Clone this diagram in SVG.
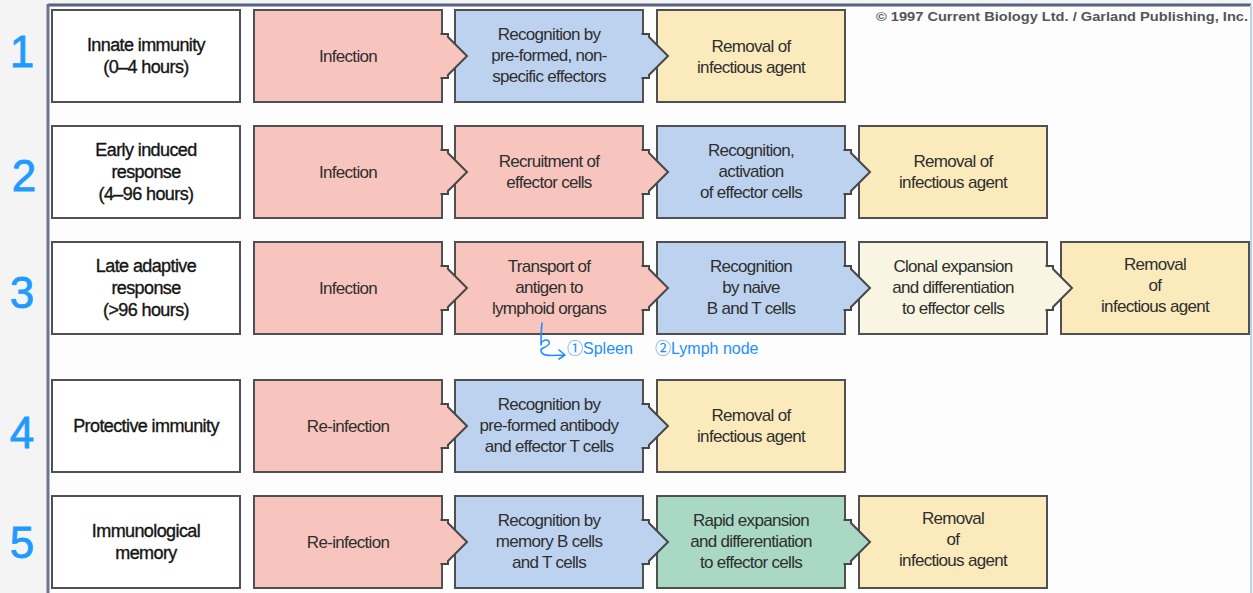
<svg xmlns="http://www.w3.org/2000/svg" width="1253" height="593" viewBox="0 0 1253 593">
<style>
.box{stroke:#505050;stroke-width:2}
.lab{fill:#fff}
.pk{fill:#f7c5bd}
.bl{fill:#bdd2ee}
.ye{fill:#fbebbc}
.cr{fill:#f8f6e3}
.gr{fill:#a9d8c5}
.t{font-family:"Liberation Sans",Arial,sans-serif;font-size:17px;letter-spacing:-0.7px;fill:#2e2e2e;text-anchor:middle}
.tl{font-family:"Liberation Sans",Arial,sans-serif;font-size:18px;letter-spacing:-0.6px;fill:#151515;stroke:#151515;stroke-width:0.35;text-anchor:middle}
.arr{stroke:#474747;stroke-width:2;stroke-linejoin:miter}
.num{font-family:"Liberation Sans",Arial,sans-serif;font-size:44px;fill:#1f9bff;stroke:#1f9bff;stroke-width:0.8;text-anchor:middle}
.hw{font-family:"Liberation Sans","Noto Sans CJK SC",sans-serif;font-size:16px;fill:#1f8fff}
</style>
<rect width="1253" height="593" fill="#f4f4f4"/>
<rect x="48" y="5" width="1203" height="595" fill="#fdfdfd"/>
<line x1="48" y1="5" x2="1251" y2="5" stroke="#56627e" stroke-width="3"/>
<line x1="48" y1="4" x2="48" y2="593" stroke="#6b7590" stroke-width="3"/>
<line x1="1251" y1="5" x2="1251" y2="593" stroke="#bcd3ea" stroke-width="2"/>
<text x="1062" y="21" font-family="Liberation Sans,Arial,sans-serif" font-size="13" font-weight="bold" fill="#555" text-anchor="middle" textLength="372" lengthAdjust="spacingAndGlyphs">© 1997 Current Biology Ltd. / Garland Publishing, Inc.</text>

<g id="numbers">
<text class="num" x="22" y="67">1</text>
<text class="num" x="24" y="191">2</text>
<text class="num" x="22" y="308">3</text>
<text class="num" x="22" y="448">4</text>
<text class="num" x="22" y="558">5</text>
</g>

<!-- Row 1 -->
<g id="r1-label"><rect class="box lab" x="52" y="10" width="188" height="92"/><text class="tl" x="146" y="51">Innate immunity</text><text class="tl" x="146" y="73">(0–4 hours)</text></g>
<g id="r1-infection"><rect class="box pk" x="254" y="10" width="188" height="92"/><text class="t" x="348" y="62">Infection</text></g>
<g id="r1-recognition"><rect class="box bl" x="455" y="10" width="188" height="92"/><text class="t" x="549" y="40">Recognition by</text><text class="t" x="549" y="61">pre-formed, non-</text><text class="t" x="549" y="82">specific effectors</text></g>
<g id="r1-removal"><rect class="box ye" x="657" y="10" width="188" height="92"/><text class="t" x="751" y="52">Removal of</text><text class="t" x="751" y="73">infectious agent</text></g>

<!-- Row 2 -->
<g id="r2-label"><rect class="box lab" x="52" y="126" width="188" height="92"/><text class="tl" x="146" y="156">Early induced</text><text class="tl" x="146" y="178">response</text><text class="tl" x="146" y="200">(4–96 hours)</text></g>
<g id="r2-infection"><rect class="box pk" x="254" y="126" width="188" height="92"/><text class="t" x="348" y="178">Infection</text></g>
<g id="r2-recruitment"><rect class="box pk" x="455" y="126" width="188" height="92"/><text class="t" x="549" y="167">Recruitment of</text><text class="t" x="549" y="188">effector cells</text></g>
<g id="r2-recognition"><rect class="box bl" x="657" y="126" width="188" height="92"/><text class="t" x="751" y="156">Recognition,</text><text class="t" x="751" y="177">activation</text><text class="t" x="751" y="198">of effector cells</text></g>
<g id="r2-removal"><rect class="box ye" x="859" y="126" width="188" height="92"/><text class="t" x="953" y="167">Removal of</text><text class="t" x="953" y="188">infectious agent</text></g>

<!-- Row 3 -->
<g id="r3-label"><rect class="box lab" x="52" y="242" width="188" height="92"/><text class="tl" x="146" y="272">Late adaptive</text><text class="tl" x="146" y="294">response</text><text class="tl" x="146" y="316">(&gt;96 hours)</text></g>
<g id="r3-infection"><rect class="box pk" x="254" y="242" width="188" height="92"/><text class="t" x="348" y="294">Infection</text></g>
<g id="r3-transport"><rect class="box pk" x="455" y="242" width="188" height="92"/><text class="t" x="549" y="272">Transport of</text><text class="t" x="549" y="293">antigen to</text><text class="t" x="549" y="314">lymphoid organs</text></g>
<g id="r3-recognition"><rect class="box bl" x="657" y="242" width="188" height="92"/><text class="t" x="751" y="272">Recognition</text><text class="t" x="751" y="293">by naive</text><text class="t" x="751" y="314">B and T cells</text></g>
<g id="r3-clonal"><rect class="box cr" x="859" y="242" width="188" height="92"/><text class="t" x="953" y="272">Clonal expansion</text><text class="t" x="953" y="293">and differentiation</text><text class="t" x="953" y="314">to effector cells</text></g>
<g id="r3-removal"><rect class="box ye" x="1061" y="242" width="188" height="92"/><text class="t" x="1155" y="270">Removal</text><text class="t" x="1155" y="291">of</text><text class="t" x="1155" y="312">infectious agent</text></g>

<!-- Row 4 -->
<g id="r4-label"><rect class="box lab" x="52" y="380" width="188" height="92"/><text class="tl" x="146" y="432">Protective immunity</text></g>
<g id="r4-reinfection"><rect class="box pk" x="254" y="380" width="188" height="92"/><text class="t" x="348" y="432">Re-infection</text></g>
<g id="r4-recognition"><rect class="box bl" x="455" y="380" width="188" height="92"/><text class="t" x="549" y="410">Recognition by</text><text class="t" x="549" y="431">pre-formed antibody</text><text class="t" x="549" y="452">and effector T cells</text></g>
<g id="r4-removal"><rect class="box ye" x="657" y="380" width="188" height="92"/><text class="t" x="751" y="421">Removal of</text><text class="t" x="751" y="442">infectious agent</text></g>

<!-- Row 5 -->
<g id="r5-label"><rect class="box lab" x="52" y="496" width="188" height="92"/><text class="tl" x="146" y="537">Immunological</text><text class="tl" x="146" y="559">memory</text></g>
<g id="r5-reinfection"><rect class="box pk" x="254" y="496" width="188" height="92"/><text class="t" x="348" y="548">Re-infection</text></g>
<g id="r5-recognition"><rect class="box bl" x="455" y="496" width="188" height="92"/><text class="t" x="549" y="526">Recognition by</text><text class="t" x="549" y="547">memory B cells</text><text class="t" x="549" y="568">and T cells</text></g>
<g id="r5-rapid"><rect class="box gr" x="657" y="496" width="188" height="92"/><text class="t" x="751" y="526">Rapid expansion</text><text class="t" x="751" y="547">and differentiation</text><text class="t" x="751" y="568">to effector cells</text></g>
<g id="r5-removal"><rect class="box ye" x="859" y="496" width="188" height="92"/><text class="t" x="953" y="524">Removal</text><text class="t" x="953" y="545">of</text><text class="t" x="953" y="566">infectious agent</text></g>

<g id="connectors" class="arr">
<!-- row 1 -->
<path class="pk" d="M440.5,34 H448 V37 L467,56 L448,75 V78 H440.5"/>
<path class="bl" d="M641.5,34 H649 V37 L668,56 L649,75 V78 H641.5"/>
<!-- row 2 -->
<path class="pk" d="M440.5,150 H448 V153 L467,172 L448,191 V194 H440.5"/>
<path class="pk" d="M641.5,150 H649 V153 L668,172 L649,191 V194 H641.5"/>
<path class="bl" d="M843.5,150 H851 V153 L870,172 L851,191 V194 H843.5"/>
<!-- row 3 -->
<path class="pk" d="M440.5,266 H448 V269 L467,288 L448,307 V310 H440.5"/>
<path class="pk" d="M641.5,266 H649 V269 L668,288 L649,307 V310 H641.5"/>
<path class="bl" d="M843.5,266 H851 V269 L870,288 L851,307 V310 H843.5"/>
<path class="cr" d="M1045.5,266 H1053 V269 L1072,288 L1053,307 V310 H1045.5"/>
<!-- row 4 -->
<path class="pk" d="M440.5,404 H448 V407 L467,426 L448,445 V448 H440.5"/>
<path class="bl" d="M641.5,404 H649 V407 L668,426 L649,445 V448 H641.5"/>
<!-- row 5 -->
<path class="pk" d="M440.5,520 H448 V523 L467,542 L448,561 V564 H440.5"/>
<path class="bl" d="M641.5,520 H649 V523 L668,542 L649,561 V564 H641.5"/>
<path class="gr" d="M843.5,520 H851 V523 L870,542 L851,561 V564 H843.5"/>
</g>

<g id="annotations">
<path d="M542,323 C541,332 541,338 541,345 C541,339 551,338 549,344 C547,348 541,347 541,350 C541,356 547,356 565,355 M559,350 L565,355 L559,359" fill="none" stroke="#1f8fff" stroke-width="1.6" stroke-linecap="round" stroke-linejoin="round"/>
<text class="hw" x="567" y="354">①Spleen</text>
<text class="hw" x="655" y="354">②Lymph node</text>
</g>
</svg>
